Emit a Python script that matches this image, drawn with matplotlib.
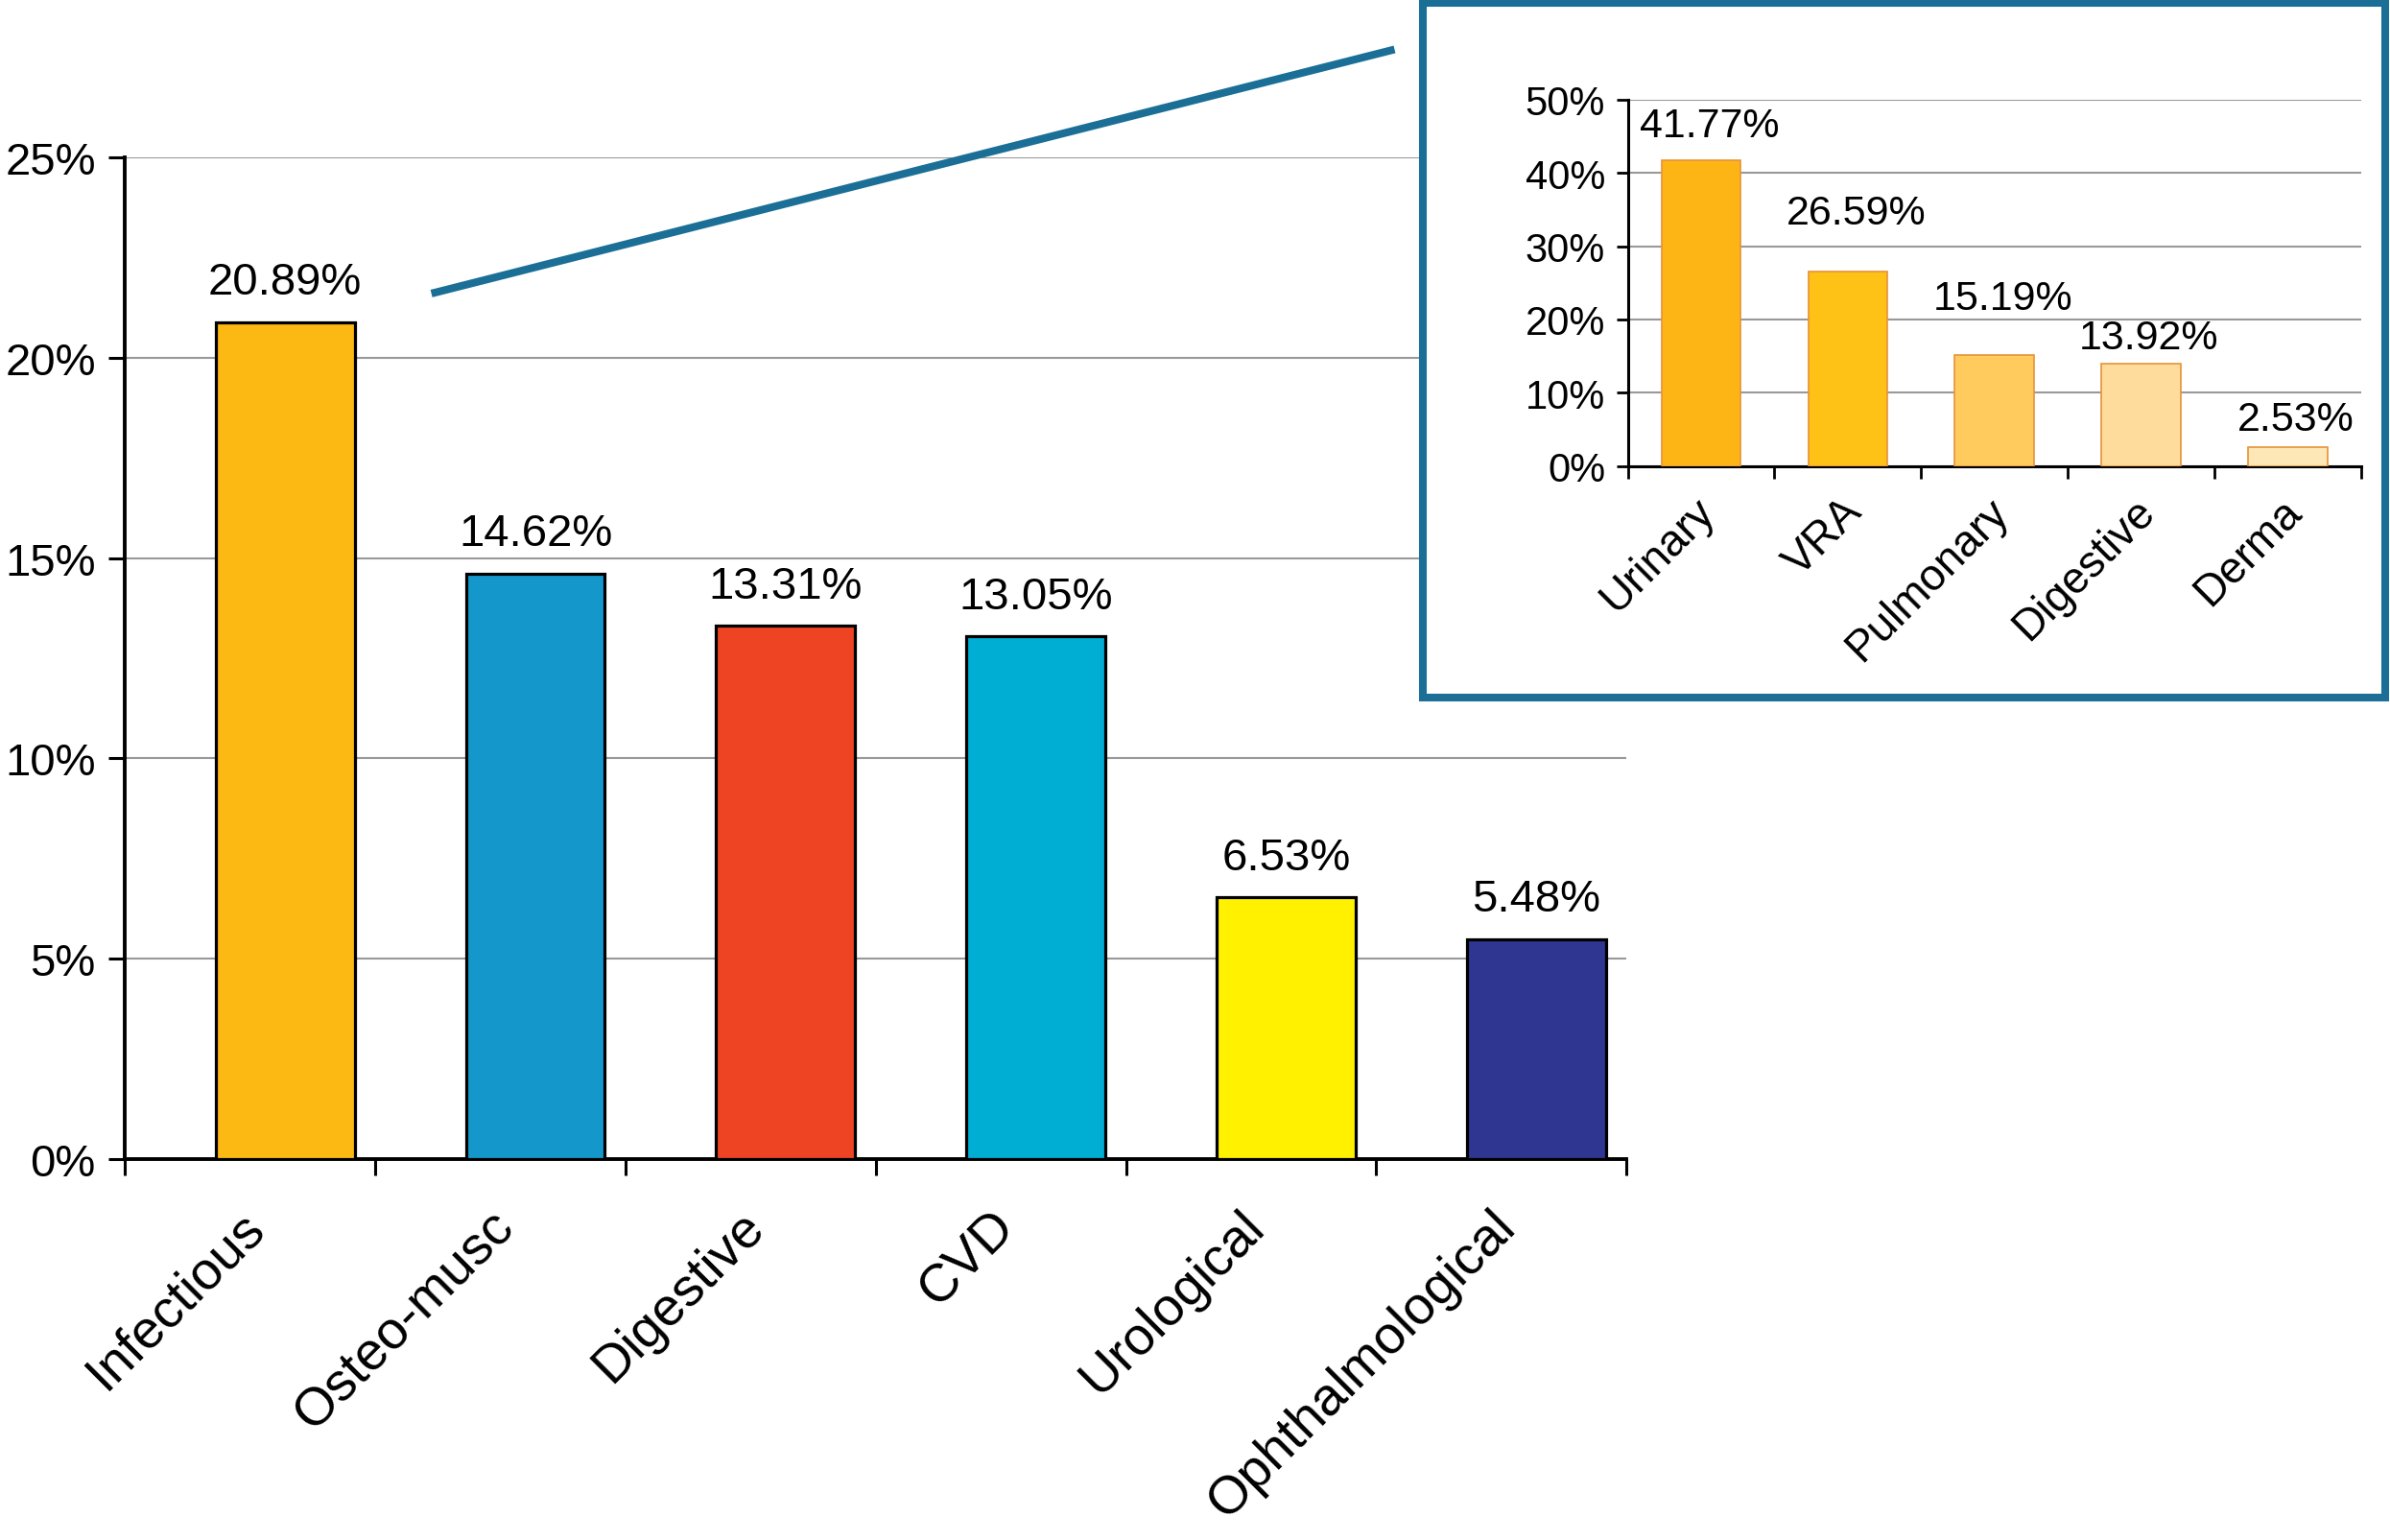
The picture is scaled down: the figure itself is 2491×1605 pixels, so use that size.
import numpy as np
import matplotlib.pyplot as plt
from matplotlib.patches import Rectangle
from matplotlib.lines import Line2D

plt.rcParams['font.family'] = ['Liberation Sans', 'DejaVu Sans']

# main chart data
categories = ['Infectious', 'Osteo-musc', 'Digestive', 'CVD', 'Urological', 'Ophthalmological']
shares = [20.89, 14.62, 13.31, 13.05, 6.53, 5.48]
bar_colors = ['#FDB913', '#1498CC', '#EE4423', '#00AED4', '#FFF100', '#2E3691']
y_ticks = [0, 5, 10, 15, 20, 25]

# inset (breakdown of infectious)
sub_categories = ['Urinary', 'VRA', 'Pulmonary', 'Digestive', 'Derma']
sub_shares = [41.77, 26.59, 15.19, 13.92, 2.53]
sub_colors = ['#FDB515', '#FEC115', '#FECB5C', '#FEDC9C', '#FEE7B6']
sub_ticks = [0, 10, 20, 30, 40, 50]
sub_label_dy = [11, 29, 28, 5, 7]  # label offsets in points, as in the original

teal = '#1B6F97'

fig = plt.figure(figsize=(24.91, 16.06), dpi=100)

# ---- main axes ----
ax = fig.add_axes([0.0523, 0.2475, 0.6282, 0.6495])
x = np.arange(len(categories))
bars = ax.bar(x + 0.14, shares, 0.555, color=bar_colors, edgecolor='black',
              linewidth=2.3, zorder=3)
for b, v in zip(bars, shares):
    ax.annotate('{:.2f}%'.format(v), (b.get_x() + b.get_width() / 2, v),
                xytext=(0, 14), textcoords='offset points',
                ha='center', va='bottom', fontsize=34)

ax.set_xlim(-0.5, len(categories) - 0.5)
ax.set_ylim(0, 25)
ax.set_yticks(y_ticks)
ax.set_yticklabels(['{}%'.format(t) for t in y_ticks], fontsize=34)
ax.yaxis.grid(True, color='#999999', linewidth=1.5, zorder=0)
ax.set_axisbelow(True)

ax.set_xticks(np.arange(len(categories) + 1) - 0.5)
ax.set_xticklabels([])
ax.set_xticks(x - 0.045, minor=True)
ax.set_xticklabels(categories, minor=True, fontsize=40, rotation=45,
                   ha='right', va='top', rotation_mode='anchor')
ax.tick_params(axis='x', which='major', direction='out', length=12.5, width=2.2)
ax.tick_params(axis='x', which='minor', length=0, pad=32)
ax.tick_params(axis='y', direction='out', length=12, width=2.2, pad=10)

for s in ['top', 'right']:
    ax.spines[s].set_visible(False)
for s in ['left', 'bottom']:
    ax.spines[s].set_linewidth(2.8)

# ---- inset frame and connector ----
box = Rectangle((0.5955, 0.5465), 0.4025, 0.451, transform=fig.transFigure,
                facecolor='white', edgecolor=teal, linewidth=5.8, zorder=1)
fig.add_artist(box)
fig.add_artist(Line2D([0.1805, 0.5835], [0.8089, 0.9673], transform=fig.transFigure,
                      color=teal, linewidth=5.8, solid_capstyle='butt', zorder=1))

# ---- inset axes ----
ax_in = fig.add_axes([0.6811, 0.697, 0.3068, 0.2377])
ax_in.set_zorder(2)
ax_in.patch.set_alpha(0)
xs = np.arange(len(sub_categories))
sbars = ax_in.bar(xs, sub_shares, 0.54, color=sub_colors, edgecolor='#E8923A',
                  linewidth=1.2, zorder=3)
for b, v, dy in zip(sbars, sub_shares, sub_label_dy):
    ax_in.annotate('{:.2f}%'.format(v), (b.get_x() + b.get_width() / 2, v),
                   xytext=(6, dy), textcoords='offset points',
                   ha='center', va='bottom', fontsize=31)

ax_in.set_xlim(-0.5, len(sub_categories) - 0.5)
ax_in.set_ylim(0, 50)
ax_in.set_yticks(sub_ticks)
ax_in.set_yticklabels(['{}%'.format(t) for t in sub_ticks], fontsize=30)
ax_in.yaxis.grid(True, color='#999999', linewidth=1.5, zorder=0)
ax_in.set_axisbelow(True)

ax_in.set_xticks(np.arange(len(sub_categories) + 1) - 0.5)
ax_in.set_xticklabels([])
ax_in.set_xticks(xs - 0.05, minor=True)
ax_in.set_xticklabels(sub_categories, minor=True, fontsize=33, rotation=45,
                      ha='right', va='top', rotation_mode='anchor')
ax_in.tick_params(axis='x', which='major', direction='out', length=9, width=2)
ax_in.tick_params(axis='x', which='minor', length=0, pad=18)
ax_in.tick_params(axis='y', direction='out', length=9, width=2, pad=8)

for s in ['top', 'right']:
    ax_in.spines[s].set_visible(False)
for s in ['left', 'bottom']:
    ax_in.spines[s].set_linewidth(2.2)

fig.savefig('out.png', dpi=100, facecolor='white')
